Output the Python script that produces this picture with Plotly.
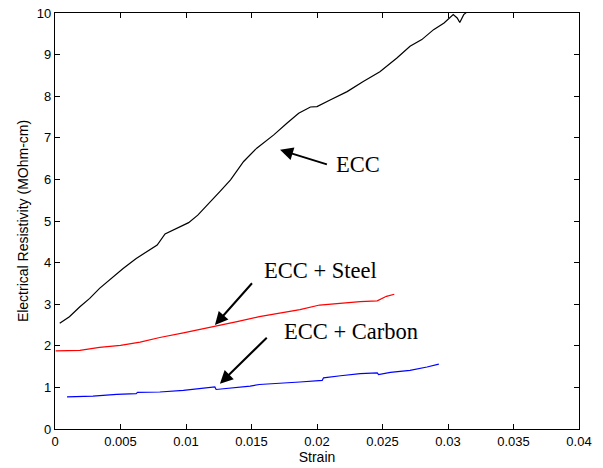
import plotly.graph_objects as go

# ECC (black)
ecc_x = [0.00036, 0.0011, 0.0019, 0.00265, 0.0034, 0.0042, 0.0052, 0.0062, 0.0072, 0.0078,
         0.0084, 0.0093, 0.0102, 0.0109, 0.0118, 0.0126, 0.0134, 0.0144, 0.0154, 0.0167,
         0.0177, 0.0186, 0.0195, 0.0200, 0.0210, 0.0223, 0.0235, 0.0248, 0.0261, 0.0271,
         0.0280, 0.0289, 0.0297, 0.0302, 0.0304, 0.0307, 0.0309, 0.0312, 0.0315]
ecc_y = [2.54, 2.70, 2.94, 3.14, 3.38, 3.60, 3.86, 4.10, 4.30, 4.42,
         4.69, 4.82, 4.96, 5.14, 5.43, 5.71, 5.99, 6.43, 6.75, 7.07,
         7.35, 7.59, 7.74, 7.75, 7.91, 8.11, 8.35, 8.59, 8.92, 9.20,
         9.36, 9.60, 9.76, 9.92, 9.96, 9.88, 9.77, 9.96, 10.04]

# ECC + Steel (red)
steel_x = [0.00005, 0.0019, 0.0034, 0.0050, 0.0065, 0.0080, 0.0098, 0.0111, 0.0123, 0.0139,
           0.0156, 0.0172, 0.0187, 0.0202, 0.0218, 0.0233, 0.0246, 0.0248, 0.0253, 0.0259]
steel_y = [1.88, 1.89, 1.96, 2.01, 2.09, 2.20, 2.31, 2.39, 2.47, 2.58,
           2.70, 2.78, 2.87, 2.98, 3.03, 3.06, 3.08, 3.11, 3.19, 3.24]

# ECC + Carbon (blue)
carbon_x = [0.00092, 0.0029, 0.0047, 0.0062, 0.0063, 0.0080, 0.0098, 0.0113, 0.0122, 0.0123,
            0.0136, 0.0149, 0.0156, 0.0172, 0.0187, 0.0204, 0.0205, 0.0218, 0.0233, 0.0246,
            0.0247, 0.0256, 0.0271, 0.0284, 0.0293]
carbon_y = [0.77, 0.79, 0.83, 0.85, 0.88, 0.89, 0.93, 0.97, 1.01, 0.95,
            0.99, 1.03, 1.07, 1.11, 1.13, 1.17, 1.23, 1.28, 1.33, 1.35,
            1.31, 1.36, 1.41, 1.49, 1.56]

x_ticks = [0, 0.005, 0.01, 0.015, 0.02, 0.025, 0.03, 0.035, 0.04]
x_tick_labels = ["0", "0.005", "0.01", "0.015", "0.02", "0.025", "0.03", "0.035", "0.04"]
y_ticks = list(range(0, 11))

# Labels: (text, text_x, text_y, arrow_tip_x, arrow_tip_y, arrow_tail_x, arrow_tail_y)
labels = [
    ("ECC", 0.0231, 6.35, 0.01718, 6.71, 0.02087, 6.35),
    ("ECC + Steel", 0.0203, 3.82, 0.01221, 2.50, 0.01514, 3.54),
    ("ECC + Carbon", 0.0226, 2.35, 0.01259, 1.09, 0.01628, 2.23),
]

sans = "Liberation Sans, Arial, sans-serif"

fig = go.Figure()
fig.add_trace(go.Scatter(x=ecc_x, y=ecc_y, mode="lines", line=dict(color="black", width=1.2),
                         showlegend=False))
fig.add_trace(go.Scatter(x=steel_x, y=steel_y, mode="lines", line=dict(color="#ff0000", width=1.2),
                         showlegend=False))
fig.add_trace(go.Scatter(x=carbon_x, y=carbon_y, mode="lines", line=dict(color="#0000ff", width=1.2),
                         showlegend=False))

for text, tx, ty, hx, hy, sx, sy in labels:
    fig.add_annotation(x=hx, y=hy, ax=sx, ay=sy, axref="x", ayref="y", xref="x", yref="y",
                       text="", showarrow=True, arrowhead=2, arrowsize=1.3, arrowwidth=2,
                       arrowcolor="black")
    fig.add_annotation(x=tx, y=ty, xref="x", yref="y", text=text, showarrow=False,
                       font=dict(family="Liberation Serif, Times New Roman, serif", size=22.5,
                                 color="black"))

axis_common = dict(showline=True, linecolor="black", linewidth=1.3, mirror="ticks",
                   ticks="inside", ticklen=5, tickcolor="black", showgrid=False,
                   zeroline=False, automargin=False, ticklabeloverflow="allow",
                   tickfont=dict(family=sans, size=13, color="black"))

fig.update_xaxes(range=[0, 0.04], tickvals=x_ticks, ticktext=x_tick_labels,
                 title=dict(text="Strain", standoff=2,
                            font=dict(family=sans, size=14, color="black")),
                 **axis_common)
fig.update_yaxes(range=[0, 10], tickvals=y_ticks,
                 title=dict(text="Electrical Resistivity (MOhm-cm)", standoff=4,
                            font=dict(family=sans, size=14, color="black")),
                 **axis_common)

fig.update_layout(width=603, height=468, margin=dict(l=55, r=24, t=13, b=39),
                  plot_bgcolor="white", paper_bgcolor="white", hovermode=False)

# remove the page's default 8px body margin so the figure fills the window exactly
fig.write_html("out.html", config={"displayModeBar": False},
               post_script="document.body.style.margin='0';")
